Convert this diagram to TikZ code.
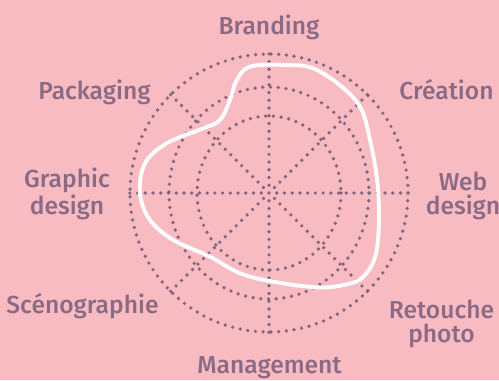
\documentclass[tikz,border=0pt]{standalone}
\usepackage{fontspec}
\setmainfont{Fira Sans}[UprightFont=* Medium]
\definecolor{rose}{HTML}{F8BBC2}
\definecolor{mauve}{HTML}{8A6A84}

\begin{document}
\begin{tikzpicture}[x=0.02cm,y=-0.02cm,line join=round,
    dotgrid/.style={mauve!95!black,line width=2.1pt,line cap=round,dash pattern=on 0pt off 4.4pt},
    skill/.style={mauve,font=\fontsize{14}{13.6}\selectfont,align=center,anchor=base},
    profile/.style={white,line width=2.2pt}]
    \path[fill=rose,use as bounding box] (0,0) rectangle (499,380);
    \coordinate (c) at (269,193);
    \path[shift={(269,193)}]
    \foreach \a in {0,45,...,315}
    {coordinate(s\a) at (\a:140)};
    \draw[dotgrid]
    \foreach \a in {0,45,...,315}
    {(c) -- (s\a)};
    \draw[dotgrid] (c) circle[radius=139]
        (c) ellipse[x radius=100,y radius=106]
        (c) ellipse[x radius=72,y radius=77];
    % skill profile
    \draw[profile] plot[smooth cycle,tension=0.6] coordinates {
        (250,66.7) (283,65) (317,70) (356.7,101.7) (370,140) (378.3,193.3)
        (376.7,250) (363.3,276.7) (343.3,285) (316.7,287.3) (273.3,281.7)
        (240,273.3) (210,256.7) (173.3,240) (150,220) (140,193.3) (145,163.3)
        (166.7,143.3) (203.3,128.3) (220,120) (230,100) (236.7,80)};
    % labels
    \node[skill] (brand) at (269,34.7) {Branding};
    \node[skill] (crea) at (446.5,99) {Création};
    \node[skill] (web) at (463,214.3) {Web\\design};
    \node[skill] (retouche) at (441.5,342.7) {Retouche\\photo};
    \node[skill] (mgmt) at (269.5,373.3) {Management};
    \node[skill] (sceno) at (82.5,313.3) {Scénographie};
    \node[skill] (graphic) at (67,214.3) {Graphic\\design};
    \node[skill] (pack) at (94.5,99) {Packaging};
\end{tikzpicture}
\end{document}
